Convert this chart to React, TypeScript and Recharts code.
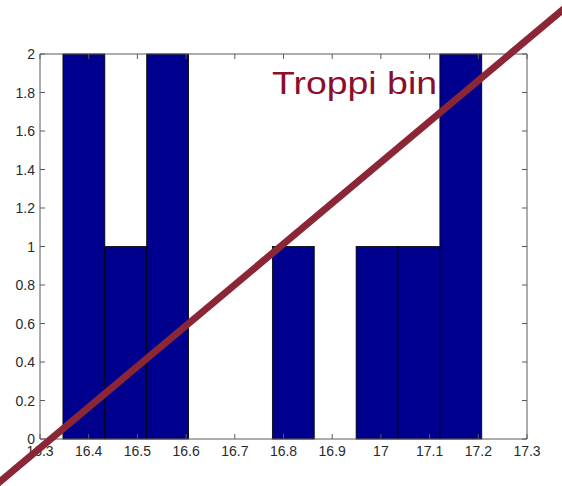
import React from "react";
import { BarChart, Bar, XAxis, YAxis, ReferenceLine } from "recharts";

// histogram bins (centres) and counts
const binCenters = [16.39, 16.476, 16.562, 16.648, 16.734, 16.82, 16.906, 16.992, 17.078, 17.164];
const counts = [2, 1, 2, 0, 0, 1, 0, 1, 1, 2];
const binWidth = 0.086;

const xTicks = [16.3, 16.4, 16.5, 16.6, 16.7, 16.8, 16.9, 17, 17.1, 17.2, 17.3];
const yTicks = [0, 0.2, 0.4, 0.6, 0.8, 1, 1.2, 1.4, 1.6, 1.8, 2];

const title = "Troppi bin";

const data = binCenters.map((x, i) => ({ x, count: counts[i] }));

const W = 562;
const H = 486;
const MARGIN = { top: 54, right: 35, bottom: 17, left: 10 };
const Y_AXIS_W = 30;
const X_AXIS_H = 30;
const AXIS = "#5a5a5a";
const LABEL = "#2a2a2a";
const FONT = "'Liberation Sans', Arial, sans-serif";
const fmt = (v: number) => String(Number(v.toFixed(1)));

const PLOT_W = W - MARGIN.left - Y_AXIS_W - MARGIN.right;
const PLOT_H = H - MARGIN.top - MARGIN.bottom - X_AXIS_H;
const barPx = binWidth * PLOT_W;

// MATLAB-style inward ticks, mirrored on the opposite side of the box
const BottomTick = (p: any) => (
  <g>
    <line x1={p.x} y1={p.y} x2={p.x} y2={p.y - 5} stroke={AXIS} />
    <line x1={p.x} y1={p.y - PLOT_H} x2={p.x} y2={p.y - PLOT_H + 5} stroke={AXIS} />
    <text x={p.x} y={p.y + 17} textAnchor="middle" fontSize={14} fill={LABEL} fontFamily={FONT}>
      {fmt(p.payload.value)}
    </text>
  </g>
);

const LeftTick = (p: any) => (
  <g>
    <line x1={p.x} y1={p.y} x2={p.x + 5} y2={p.y} stroke={AXIS} />
    <line x1={p.x + PLOT_W} y1={p.y} x2={p.x + PLOT_W - 5} y2={p.y} stroke={AXIS} />
    <text x={p.x - 5} y={p.y + 5} textAnchor="end" fontSize={14} fill={LABEL} fontFamily={FONT}>
      {fmt(p.payload.value)}
    </text>
  </g>
);

// full-width histogram bar centred on the bin
const HistBar = (p: any) => {
  if (!p.height) return null;
  const cx = p.x + p.width / 2;
  return (
    <rect
      x={cx - barPx / 2}
      y={p.y}
      width={barPx}
      height={p.height}
      fill="#00008f"
      stroke="#000"
      strokeWidth={0.8}
    />
  );
};

export default function App() {
  return (
    <div style={{ position: "absolute", left: 0, top: 0, width: W, height: H, background: "#fff" }}>
      <BarChart width={W} height={H} data={data} margin={MARGIN} barCategoryGap={0}>
        <XAxis
          dataKey="x"
          type="number"
          domain={[16.3, 17.3]}
          ticks={xTicks}
          height={X_AXIS_H}
          tickSize={0}
          tickMargin={0}
          axisLine={{ stroke: AXIS }}
          tick={BottomTick}
        />
        <YAxis
          domain={[0, 2]}
          ticks={yTicks}
          width={Y_AXIS_W}
          tickSize={0}
          tickMargin={0}
          axisLine={{ stroke: AXIS }}
          tick={LeftTick}
        />
        <Bar dataKey="count" shape={HistBar} isAnimationActive={false} />
        <ReferenceLine y={2} stroke={AXIS} />
        <ReferenceLine x={17.3} stroke={AXIS} />
      </BarChart>
      {/* strike-through annotation */}
      <svg
        width={W}
        height={H}
        style={{ position: "absolute", left: 0, top: 0, pointerEvents: "none" }}
      >
        <text
          x={272}
          y={94}
          fontSize={32}
          fill="#8a0f2e"
          fontFamily={FONT}
          textLength={165}
          lengthAdjust="spacingAndGlyphs"
        >
          {title}
        </text>
        <line x1={-4} y1={485} x2={566} y2={7} stroke="#8b2636" strokeWidth={7} />
      </svg>
    </div>
  );
}
